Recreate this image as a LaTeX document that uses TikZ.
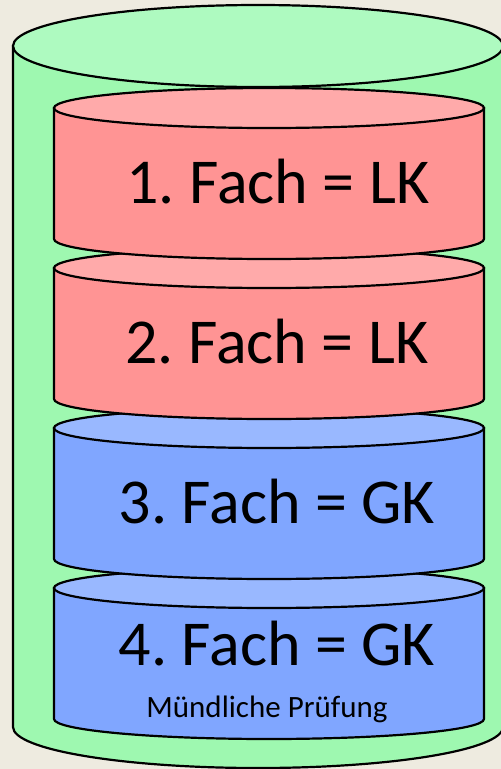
\documentclass[tikz,border=0pt]{standalone}
\usepackage{fontspec}
\setmainfont{Carlito}
\frenchspacing

\tikzset{
  drumline/.style={draw=black, line width=2.2pt},
  bigtext/.style={anchor=base, inner sep=0pt, font=\fontsize{64}{70}\selectfont},
  smalltext/.style={anchor=base, inner sep=0pt, font=\fontsize{31}{35}\selectfont}
}

% one inner drum: #1 = y of top centre, #2 = side colour, #3 = lid colour
\newcommand\drum[3]{%
  \filldraw[fill=#2, drumline] (54,#1) -- (54,#1+131)
    arc[start angle=180, end angle=360, x radius=215pt, y radius=20pt]
    -- (484,#1) -- cycle;
  \filldraw[fill=#3, drumline] (269,#1) ellipse[x radius=215pt, y radius=20pt];
}

\begin{document}
\begin{tikzpicture}[x=1pt,y=-1pt]
  % Define colors for the parts
  \definecolor{paper}{RGB}{238,235,224}
  \definecolor{greenside}{RGB}{158,248,176}
  \definecolor{greenlid}{RGB}{174,250,192}
  \definecolor{redside}{RGB}{255,148,148}
  \definecolor{redlid}{RGB}{255,170,170}
  \definecolor{blueside}{RGB}{128,166,255}
  \definecolor{bluelid}{RGB}{153,184,255}

  \fill[paper] (0,0) rectangle (501,769);
  \useasboundingbox (0,0) rectangle (501,769);

  % Outer cylinder
  \filldraw[fill=greenside, drumline] (13,46) -- (13,727)
    arc[start angle=180, end angle=360, x radius=245pt, y radius=41pt]
    -- (503,46) -- cycle;
  \filldraw[fill=greenlid, drumline] (258,46) ellipse[x radius=245pt, y radius=41pt];

  % Inner drums from bottom to top
  \drum{588}{blueside}{bluelid}
  \drum{428}{blueside}{bluelid}
  \drum{268}{redside}{redlid}
  \drum{108}{redside}{redlid}

  % Add labels
  \node[bigtext] (fach1) at (278,203) {1. Fach = LK};
  \node[bigtext] (fach2) at (277,363) {2. Fach = LK};
  \node[bigtext] (fach3) at (277,523) {3. Fach = GK};
  \node[bigtext] (fach4) at (277,665) {4. Fach = GK};
  \node[smalltext] (oral) at (267,717) {Mündliche Prüfung};
\end{tikzpicture}
\end{document}
